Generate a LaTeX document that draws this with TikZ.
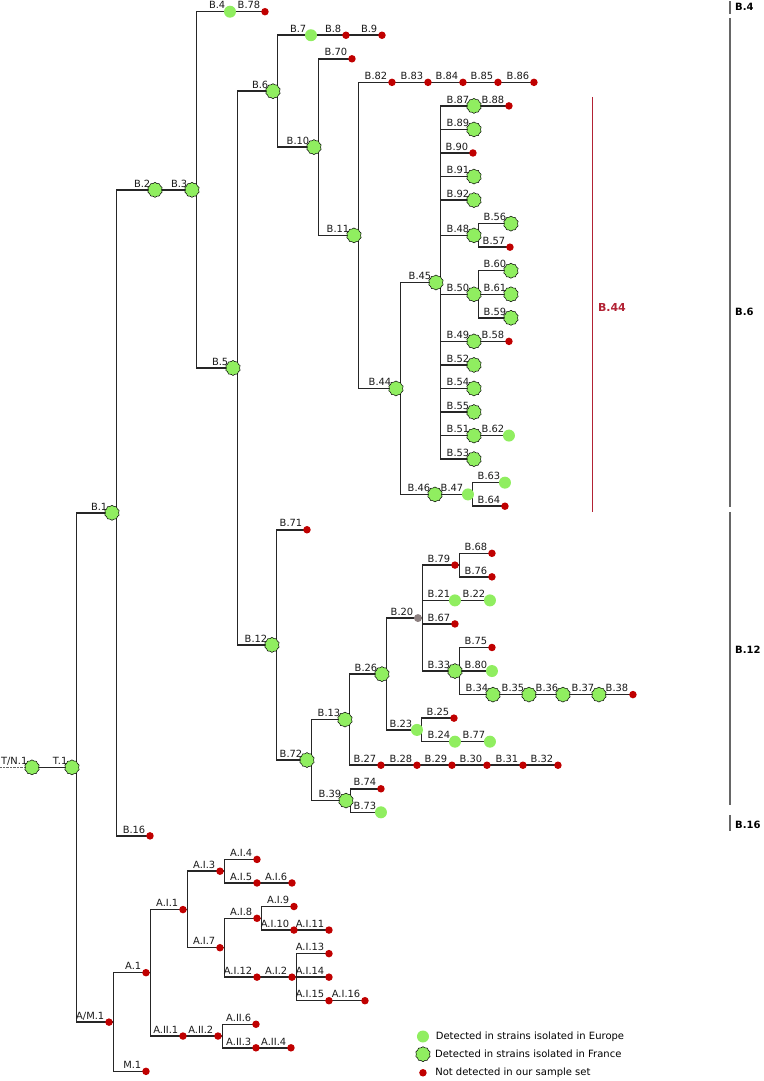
\documentclass[tikz,border=0pt]{standalone}
\usepackage{fontspec}
\setmainfont{DejaVu Sans}
\usepackage{xcolor}
\usepackage{tikz}
\usetikzlibrary{positioning,shapes.symbols,backgrounds}
\definecolor{eugreen}{HTML}{90EE60}
\definecolor{absred}{HTML}{C00000}
\definecolor{unkgrey}{HTML}{8C8080}
\definecolor{cladered}{HTML}{B22234}
\tikzset{
  europe/.style={circle,fill=eugreen,minimum size=12pt,inner sep=0pt},
  france/.style={cloud,cloud puffs=10,cloud puff arc=120,aspect=1,draw=black,line width=0.5pt,fill=eugreen,minimum size=15pt,inner sep=0pt},
  absent/.style={circle,fill=absred,minimum size=7.5pt,inner sep=0pt},
  unknown/.style={circle,fill=unkgrey,minimum size=8pt,inner sep=0pt},
  lbl/.style={anchor=base east,inner sep=0pt,text=black!90,font=\fontsize{9.9}{11}\selectfont},
  tag/.style={append after command={node[lbl] at ([xshift=-4.5pt,yshift=2.8pt]\tikzlastnode.center) {#1}}},
  branch/.style={line width=1.5pt,draw=black!85},
  cladebar/.style={line width=1.4pt,draw=black!60},
  cladetag/.style={anchor=west,inner sep=0pt,font=\fontsize{10}{12}\selectfont\bfseries},
  legtext/.style={anchor=west,inner sep=0pt,font=\fontsize{10}{12}\selectfont}
}

\begin{document}
\begin{tikzpicture}[x=1pt,y=-23.55pt]
  \useasboundingbox (0,-0.497) rectangle (764,45.41);

  % root
  \coordinate (rootend) at (0,32.09);
  \node[france,tag=T/N.1] (tn1) at (32,32.09) {};
  \node[france,tag=T.1] (t1) at (72,32.09) {};

  % B branch
  \node[france,tag=B.1] (b1) at (112,21.28) {};
  \node[france,tag=B.2] (b2) at (155,7.566) {};
  \node[france,tag=B.3] (b3) at (192,7.566) {};
  \node[europe,tag=B.4] (b4) at (230,0) {};
  \node[absent,tag=B.78] (b78) at (265,0) {};
  \node[france,tag=B.5] (b5) at (233,15.13) {};
  \node[france,tag=B.6] (b6) at (273,3.375) {};
  \node[europe,tag=B.7] (b7) at (311,1) {};
  \node[absent,tag=B.8] (b8) at (346,1) {};
  \node[absent,tag=B.9] (b9) at (382,1) {};
  \node[france,tag=B.10] (b10) at (314,5.75) {};
  \node[absent,tag=B.70] (b70) at (352,2) {};
  \node[france,tag=B.11] (b11) at (354,9.5) {};
  \node[absent,tag=B.82] (b82) at (392,3) {};
  \node[absent,tag=B.83] (b83) at (428,3) {};
  \node[absent,tag=B.84] (b84) at (463,3) {};
  \node[absent,tag=B.85] (b85) at (498,3) {};
  \node[absent,tag=B.86] (b86) at (534,3) {};
  \node[france,tag=B.44] (b44) at (396,16) {};
  \node[france,tag=B.45] (b45) at (436,11.5) {};
  \node[france,tag=B.87] (b87) at (474,4) {};
  \node[absent,tag=B.88] (b88) at (509,4) {};
  \node[france,tag=B.89] (b89) at (474,5) {};
  \node[absent,tag=B.90] (b90) at (473,6) {};
  \node[france,tag=B.91] (b91) at (474,7) {};
  \node[france,tag=B.92] (b92) at (474,8) {};
  \node[france,tag=B.48] (b48) at (474,9.5) {};
  \node[france,tag=B.56] (b56) at (511,9) {};
  \node[absent,tag=B.57] (b57) at (510,10) {};
  \node[france,tag=B.50] (b50) at (474,12) {};
  \node[france,tag=B.60] (b60) at (511,11) {};
  \node[france,tag=B.61] (b61) at (511,12) {};
  \node[france,tag=B.59] (b59) at (511,13) {};
  \node[france,tag=B.49] (b49) at (474,14) {};
  \node[absent,tag=B.58] (b58) at (509,14) {};
  \node[france,tag=B.52] (b52) at (474,15) {};
  \node[france,tag=B.54] (b54) at (474,16) {};
  \node[france,tag=B.55] (b55) at (474,17) {};
  \node[france,tag=B.51] (b51) at (474,18) {};
  \node[europe,tag=B.62] (b62) at (509,18) {};
  \node[france,tag=B.53] (b53) at (474,19) {};
  \node[france,tag=B.46] (b46) at (435,20.5) {};
  \node[europe,tag=B.47] (b47) at (468,20.5) {};
  \node[europe,tag=B.63] (b63) at (505,20) {};
  \node[absent,tag=B.64] (b64) at (505,21) {};
  \node[france,tag=B.12] (b12) at (272,26.89) {};
  \node[absent,tag=B.71] (b71) at (307,22) {};
  \node[france,tag=B.72] (b72) at (307,31.78) {};
  \node[france,tag=B.13] (b13) at (345,30.06) {};
  \node[france,tag=B.26] (b26) at (382,28.13) {};
  \node[unknown,tag=B.20] (b20) at (418,25.75) {};
  \node[absent,tag=B.79] (b79) at (455,23.5) {};
  \node[absent,tag=B.68] (b68) at (492,23) {};
  \node[absent,tag=B.76] (b76) at (492,24) {};
  \node[europe,tag=B.21] (b21) at (455,25) {};
  \node[europe,tag=B.22] (b22) at (490,25) {};
  \node[absent,tag=B.67] (b67) at (455,26) {};
  \node[france,tag=B.33] (b33) at (455,28) {};
  \node[absent,tag=B.75] (b75) at (492,27) {};
  \node[europe,tag=B.80] (b80) at (492,28) {};
  \node[france,tag=B.34] (b34) at (493,29) {};
  \node[france,tag=B.35] (b35) at (529,29) {};
  \node[france,tag=B.36] (b36) at (563,29) {};
  \node[france,tag=B.37] (b37) at (599,29) {};
  \node[absent,tag=B.38] (b38) at (633,29) {};
  \node[europe,tag=B.23] (b23) at (417,30.5) {};
  \node[absent,tag=B.25] (b25) at (454,30) {};
  \node[europe,tag=B.24] (b24) at (455,31) {};
  \node[europe,tag=B.77] (b77) at (490,31) {};
  \node[absent,tag=B.27] (b27) at (381,32) {};
  \node[absent,tag=B.28] (b28) at (417,32) {};
  \node[absent,tag=B.29] (b29) at (452,32) {};
  \node[absent,tag=B.30] (b30) at (487,32) {};
  \node[absent,tag=B.31] (b31) at (523,32) {};
  \node[absent,tag=B.32] (b32) at (558,32) {};
  \node[france,tag=B.39] (b39) at (346,33.5) {};
  \node[absent,tag=B.74] (b74) at (381,33) {};
  \node[europe,tag=B.73] (b73) at (381,34) {};
  \node[absent,tag=B.16] (b16) at (150,35) {};

  % A / M branch
  \node[absent,tag=A/M.1] (am1) at (109,42.91) {};
  \node[absent,tag=A.1] (a1) at (146,40.81) {};
  \node[absent,tag=M.1] (m1) at (146,45) {};
  \node[absent,tag=A.I.1] (ai1) at (183,38.13) {};
  \node[absent,tag=A.I.3] (ai3) at (220,36.5) {};
  \node[absent,tag=A.I.4] (ai4) at (257,36) {};
  \node[absent,tag=A.I.5] (ai5) at (257,37) {};
  \node[absent,tag=A.I.6] (ai6) at (292,37) {};
  \node[absent,tag=A.I.7] (ai7) at (220,39.75) {};
  \node[absent,tag=A.I.8] (ai8) at (257,38.5) {};
  \node[absent,tag=A.I.9] (ai9) at (294,38) {};
  \node[absent,tag=A.I.10] (ai10) at (294,39) {};
  \node[absent,tag=A.I.11] (ai11) at (329,39) {};
  \node[absent,tag=A.I.12] (ai12) at (257,41) {};
  \node[absent,tag=A.I.2] (ai2) at (292,41) {};
  \node[absent,tag=A.I.13] (ai13) at (329,40) {};
  \node[absent,tag=A.I.14] (ai14) at (329,41) {};
  \node[absent,tag=A.I.15] (ai15) at (329,42) {};
  \node[absent,tag=A.I.16] (ai16) at (365,42) {};
  \node[absent,tag=A.II.1] (aii1) at (183,43.5) {};
  \node[absent,tag=A.II.2] (aii2) at (218,43.5) {};
  \node[absent,tag=A.II.6] (aii6) at (256,43) {};
  \node[absent,tag=A.II.3] (aii3) at (256,44) {};
  \node[absent,tag=A.II.4] (aii4) at (291,44) {};

  \begin{scope}[on background layer]
    \draw[densely dotted,thin,black!60] (rootend) -- (tn1.center);
    \draw[branch] (tn1.center) -- (t1.center);
    \draw[branch] (t1.center) -- ++(4.5,0) |- (b1.center);
    \draw[branch] (t1.center) -- ++(4.5,0) |- (am1.center);
    \draw[branch] (b1.center) -- ++(4.5,0) |- (b2.center);
    \draw[branch] (b1.center) -- ++(4.5,0) |- (b16.center);
    \draw[branch] (b2.center) -- (b3.center);
    \draw[branch] (b3.center) -- ++(4.5,0) |- (b4.center);
    \draw[branch] (b3.center) -- ++(4.5,0) |- (b5.center);
    \draw[branch] (b4.center) -- (b78.center);
    \draw[branch] (b5.center) -- ++(4.5,0) |- (b6.center);
    \draw[branch] (b5.center) -- ++(4.5,0) |- (b12.center);
    \draw[branch] (b6.center) -- ++(4.5,0) |- (b7.center);
    \draw[branch] (b6.center) -- ++(4.5,0) |- (b10.center);
    \draw[branch] (b7.center) -- (b8.center) -- (b9.center);
    \draw[branch] (b10.center) -- ++(4.5,0) |- (b70.center);
    \draw[branch] (b10.center) -- ++(4.5,0) |- (b11.center);
    \draw[branch] (b11.center) -- ++(4.5,0) |- (b82.center);
    \draw[branch] (b11.center) -- ++(4.5,0) |- (b44.center);
    \draw[branch] (b82.center) -- (b83.center) -- (b84.center) -- (b85.center) -- (b86.center);
    \draw[branch] (b44.center) -- ++(4.5,0) |- (b45.center);
    \draw[branch] (b44.center) -- ++(4.5,0) |- (b46.center);
    \draw[branch] (b45.center) -- ++(4.5,0) |- (b87.center);
    \draw[branch] (b45.center) -- ++(4.5,0) |- (b89.center);
    \draw[branch] (b45.center) -- ++(4.5,0) |- (b90.center);
    \draw[branch] (b45.center) -- ++(4.5,0) |- (b91.center);
    \draw[branch] (b45.center) -- ++(4.5,0) |- (b92.center);
    \draw[branch] (b45.center) -- ++(4.5,0) |- (b48.center);
    \draw[branch] (b45.center) -- ++(4.5,0) |- (b50.center);
    \draw[branch] (b45.center) -- ++(4.5,0) |- (b49.center);
    \draw[branch] (b45.center) -- ++(4.5,0) |- (b52.center);
    \draw[branch] (b45.center) -- ++(4.5,0) |- (b54.center);
    \draw[branch] (b45.center) -- ++(4.5,0) |- (b55.center);
    \draw[branch] (b45.center) -- ++(4.5,0) |- (b51.center);
    \draw[branch] (b45.center) -- ++(4.5,0) |- (b53.center);
    \draw[branch] (b87.center) -- (b88.center);
    \draw[branch] (b48.center) -- ++(4.5,0) |- (b56.center);
    \draw[branch] (b48.center) -- ++(4.5,0) |- (b57.center);
    \draw[branch] (b50.center) -- ++(4.5,0) |- (b60.center);
    \draw[branch] (b50.center) -- ++(4.5,0) |- (b61.center);
    \draw[branch] (b50.center) -- ++(4.5,0) |- (b59.center);
    \draw[branch] (b49.center) -- (b58.center);
    \draw[branch] (b51.center) -- (b62.center);
    \draw[branch] (b46.center) -- (b47.center);
    \draw[branch] (b47.center) -- ++(4.5,0) |- (b63.center);
    \draw[branch] (b47.center) -- ++(4.5,0) |- (b64.center);
    \draw[branch] (b12.center) -- ++(4.5,0) |- (b71.center);
    \draw[branch] (b12.center) -- ++(4.5,0) |- (b72.center);
    \draw[branch] (b72.center) -- ++(4.5,0) |- (b13.center);
    \draw[branch] (b72.center) -- ++(4.5,0) |- (b39.center);
    \draw[branch] (b13.center) -- ++(4.5,0) |- (b26.center);
    \draw[branch] (b13.center) -- ++(4.5,0) |- (b27.center);
    \draw[branch] (b26.center) -- ++(4.5,0) |- (b20.center);
    \draw[branch] (b26.center) -- ++(4.5,0) |- (b23.center);
    \draw[branch] (b20.center) -- ++(4.5,0) |- (b79.center);
    \draw[branch] (b20.center) -- ++(4.5,0) |- (b21.center);
    \draw[branch] (b20.center) -- ++(4.5,0) |- (b67.center);
    \draw[branch] (b20.center) -- ++(4.5,0) |- (b33.center);
    \draw[branch] (b79.center) -- ++(4.5,0) |- (b68.center);
    \draw[branch] (b79.center) -- ++(4.5,0) |- (b76.center);
    \draw[branch] (b21.center) -- (b22.center);
    \draw[branch] (b33.center) -- ++(4.5,0) |- (b75.center);
    \draw[branch] (b33.center) -- ++(4.5,0) |- (b80.center);
    \draw[branch] (b33.center) -- ++(4.5,0) |- (b34.center);
    \draw[branch] (b34.center) -- (b35.center) -- (b36.center) -- (b37.center) -- (b38.center);
    \draw[branch] (b23.center) -- ++(4.5,0) |- (b25.center);
    \draw[branch] (b23.center) -- ++(4.5,0) |- (b24.center);
    \draw[branch] (b24.center) -- (b77.center);
    \draw[branch] (b27.center) -- (b28.center) -- (b29.center) -- (b30.center) -- (b31.center) -- (b32.center);
    \draw[branch] (b39.center) -- ++(4.5,0) |- (b74.center);
    \draw[branch] (b39.center) -- ++(4.5,0) |- (b73.center);
    \draw[branch] (am1.center) -- ++(4.5,0) |- (a1.center);
    \draw[branch] (am1.center) -- ++(4.5,0) |- (m1.center);
    \draw[branch] (a1.center) -- ++(4.5,0) |- (ai1.center);
    \draw[branch] (a1.center) -- ++(4.5,0) |- (aii1.center);
    \draw[branch] (ai1.center) -- ++(4.5,0) |- (ai3.center);
    \draw[branch] (ai1.center) -- ++(4.5,0) |- (ai7.center);
    \draw[branch] (ai3.center) -- ++(4.5,0) |- (ai4.center);
    \draw[branch] (ai3.center) -- ++(4.5,0) |- (ai5.center);
    \draw[branch] (ai5.center) -- (ai6.center);
    \draw[branch] (ai7.center) -- ++(4.5,0) |- (ai8.center);
    \draw[branch] (ai7.center) -- ++(4.5,0) |- (ai12.center);
    \draw[branch] (ai8.center) -- ++(4.5,0) |- (ai9.center);
    \draw[branch] (ai8.center) -- ++(4.5,0) |- (ai10.center);
    \draw[branch] (ai10.center) -- (ai11.center);
    \draw[branch] (ai12.center) -- (ai2.center);
    \draw[branch] (ai2.center) -- ++(4.5,0) |- (ai13.center);
    \draw[branch] (ai2.center) -- ++(4.5,0) |- (ai14.center);
    \draw[branch] (ai2.center) -- ++(4.5,0) |- (ai15.center);
    \draw[branch] (ai15.center) -- (ai16.center);
    \draw[branch] (aii1.center) -- (aii2.center);
    \draw[branch] (aii2.center) -- ++(4.5,0) |- (aii6.center);
    \draw[branch] (aii2.center) -- ++(4.5,0) |- (aii3.center);
    \draw[branch] (aii3.center) -- (aii4.center);
  \end{scope}

  % clade brackets
  \draw[line width=1pt,cladered] (593,3.62) -- (593,21.24);
  \node[font=\fontsize{11}{13}\selectfont\bfseries,text=cladered] (cb44) at (612,12.54) {B.44};
  \draw[cladebar] (730,-0.454) -- (730,0.098);
  \node[cladetag] (cb4) at (735,-0.2) {B.4};
  \draw[cladebar] (730,0.268) -- (730,21.03);
  \node[cladetag] (cb6) at (735,12.75) {B.6};
  \draw[cladebar] (730,21.24) -- (730,33.69);
  \node[cladetag] (cb12) at (735,27.1) {B.12};
  \draw[cladebar] (730,34.11) -- (730,34.79);
  \node[cladetag] (cb16) at (735,34.53) {B.16};

  % legend
  \node[europe] (leu) at (423,43.52) {};
  \node[legtext,right=6.5pt of leu] (teu) {Detected in strains isolated in Europe};
  \node[france] (lfr) at (423,44.27) {};
  \node[legtext,right=5pt of lfr] (tfr) {Detected in strains isolated in France};
  \node[absent] (lab) at (423,45.06) {};
  \node[legtext,right=8.2pt of lab] (tab) {Not detected in our sample set};
\end{tikzpicture}
\end{document}
